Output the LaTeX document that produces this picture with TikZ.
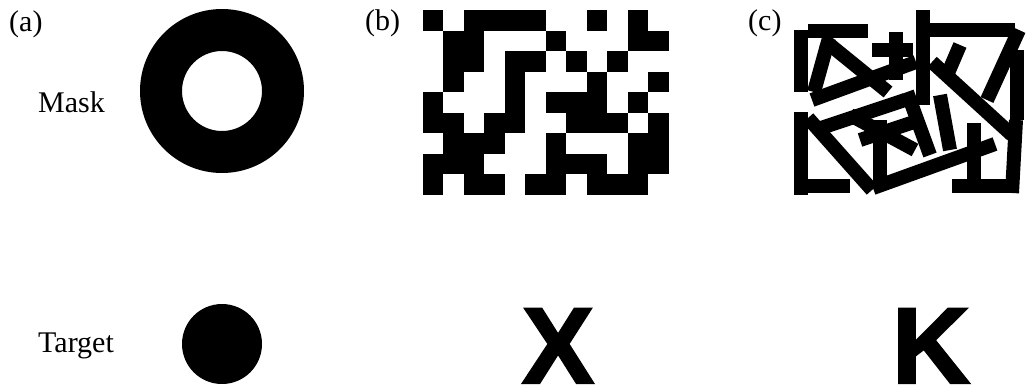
\documentclass[tikz,border=0pt]{standalone}
\usepackage{fontspec}
\setmainfont{Liberation Serif}
\newfontfamily\letterfont{Liberation Sans Bold}[FakeBold=2]
\begin{document}
\begin{tikzpicture}[x=1pt,y=-1pt,
  lab/.style={anchor=base west,inner sep=0pt,font=\fontsize{30}{30}\selectfont},
  bigletter/.style={anchor=base,inner sep=0pt,font=\letterfont\fontsize{108}{108}\selectfont},
  bar/.style={line width=14pt,line cap=butt}]
\useasboundingbox (0,0) rectangle (1026,386);
% labels
\node[lab] (la) at (9,31) {(a)};
\node[lab] (lb) at (365,30) {(b)};
\node[lab] (lc) at (748,30) {(c)};
\node[lab] (mask) at (38,112) {Mask};
\node[lab] (target) at (38,352) {Target};
% (a) ring and dot
\fill[even odd rule] (222,91) circle (82) (222,91) circle (40);
\fill (222,344) circle (40);
% (b) grid
\begin{scope}[shift={(422.7,10)},x=20.5pt,y=-20.5pt]
\foreach \r/\c in {0/0,0/2,0/3,0/4,0/5,0/8,0/10,
  1/1,1/2,1/6,1/10,1/11,
  2/1,2/2,2/4,2/5,2/7,2/9,
  3/1,3/4,3/8,3/11,
  4/0,4/4,4/6,4/7,4/8,4/10,
  5/0,5/1,5/3,5/4,5/7,5/8,5/9,5/11,
  6/1,6/2,6/3,6/6,6/10,6/11,
  7/0,7/1,7/2,7/6,7/7,7/8,7/10,7/11,
  8/0,8/2,8/3,8/5,8/6,8/8,8/9,8/10}
  \fill (\c,\r) rectangle ++(1.003,1.003);
\end{scope}
% (c) random bars
\begin{scope}[bar]
\draw (800.5,30) -- (800.5,92);
\draw (808,31) -- (868,31);
\draw (829,38) -- (814,92);
\draw (824,40) -- (888,92);
\draw (800.5,112) -- (800.5,195);
\draw (808,185.5) -- (850,185.5);
\draw (923,10) -- (923,105);
\draw (930,30) -- (1015,30);
\draw (1019,30) -- (987,100);
\draw (812,100) -- (916,62);
\draw (872,50) -- (913,50);
\draw (896,32) -- (896,80);
\draw (808,118) -- (872,190);
\draw (873,188) -- (995,144);
\draw (973.5,123) -- (973.5,183);
\draw (952,185.5) -- (1015,185.5);
\draw (1016.5,50) -- (1016.5,120);
\draw (1016,120) -- (1012,193);
\draw (932,62) -- (1012,135);
\draw (907,92) -- (930,155);
\draw (880,120) -- (880,185);
\draw (850,115) -- (915,150);
\draw (960,45) -- (945,80);
\draw (815,130) -- (905,100);
\draw (860,140) -- (920,120);
\draw (940,95) -- (950,150);
\end{scope}
% targets
\node[bigletter] (X) at (558,383) {X};
\node[bigletter] (K) at (931,383) {K};
\end{tikzpicture}
\end{document}
